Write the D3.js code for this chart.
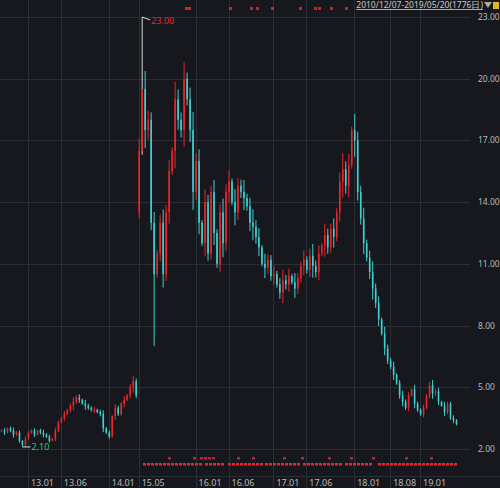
<!DOCTYPE html>
<html lang="zh">
<head>
<meta charset="UTF-8">
<script src="https://cdn.jsdelivr.net/npm/d3@7"></script>
<style>
  body { margin: 0; background: #16181d; }
  svg { display: block; font-family: "Noto Sans", "DejaVu Sans", sans-serif; }
</style>
</head>
<body>
<svg id="chart" width="500" height="488"></svg>
<script>
// closing prices, one candle every ~3px from 2010/12 to 2019/05
const closes = [
  2.9,2.8,3.0,2.9,2.7,2.8,2.4,2.2,2.5,2.8,2.9,2.7,2.9,2.8,2.7,2.6,2.4,2.5,2.9,3.3,
  3.5,3.7,3.9,4.1,4.3,4.5,4.4,4.2,4.1,4.0,3.9,3.9,3.8,3.7,3.0,2.8,2.6,3.6,4.0,3.7,
  4.2,4.4,4.6,5.0,5.3,4.6,16.5,19.5,17.5,18.0,13.0,10.5,11.5,13.0,10.5,13.5,15.5,16.5,19.0,18.0,
  17.5,20.0,19.0,17.5,14.5,16.0,13.0,12.0,14.0,11.5,14.5,12.5,11.0,13.5,12.0,14.5,15.0,14.0,13.5,14.8,
  14.5,14.2,13.8,13.0,12.8,12.3,11.8,11.0,10.8,11.2,10.4,10.5,10.0,9.6,10.2,10.0,10.4,10.1,9.8,10.3,
  10.9,11.2,10.7,11.4,10.9,10.6,11.5,11.9,12.4,11.8,12.7,12.3,13.5,15.0,15.6,14.8,15.8,17.5,17.0,14.5,
  13.2,12.0,11.3,10.6,9.8,9.1,8.3,7.6,6.9,6.3,6.0,5.6,5.2,4.6,4.3,4.0,4.6,4.9,4.2,3.9,
  3.7,4.0,4.6,5.1,4.7,4.8,4.3,4.1,3.8,4.2,3.5,3.4,3.2
];
const wicks = [0.02,0.04,0.015,0.03,0.05,0.025,0.035,0.01,0.045,0.025];
const yTicks = [2, 5, 8, 11, 14, 17, 20, 23];
const dateLabels = ["13.01","13.06","14.01","15.05","16.01","16.06","17.01","17.06","18.01","18.08","19.01"];
const dateIndex = [9, 20, 36, 46, 65, 76, 91, 102, 118, 130, 140];
const peakIndex = 47, peakPrice = 23.0;
const lowIndex = 7, lowPrice = 2.1;
const resumeIndex = 46, resumeOpen = 13.5;   // trading resumed after suspension
const bottomRuns = [[143,160],[163,200],[205,225],[228,262],[265,300],[303,340],[345,372],[378,457]];
const bottomRaised = [168,193,200,204,208,212,237,252,283,301,328,350,372,405,430];
const topMarks = [185,188,229,250,256,271,299,314,318,330,345];

const W = 500, H = 488, plotR = 470;
const svg = d3.select("#chart");
svg.append("rect").attr("width", W).attr("height", H).attr("fill", "#16181d");

const n = closes.length;
const x = d3.scaleLinear().domain([0, n - 1]).range([1, 456]);
const y = d3.scaleLinear().domain([2, 23]).range([449, 17]);

// build candles: open = previous close
const candles = closes.map((c, i) => {
  const o = i === 0 ? c : closes[i - 1];
  const w = wicks[i % wicks.length] * Math.max(o, c);
  return { i, o, c, h: Math.max(o, c) + w, l: Math.min(o, c) - w };
});
candles[resumeIndex].o = resumeOpen;
candles[resumeIndex].l = resumeOpen - 0.3;
candles[peakIndex].h = peakPrice;
candles[lowIndex].l = lowPrice;
candles[51].l = 7.0;

// grid
const grid = svg.append("g").attr("stroke", "#2b2e34").attr("stroke-width", 1);
yTicks.forEach(t => grid.append("line").attr("x1", 0).attr("x2", plotR)
  .attr("y1", Math.round(y(t)) + 0.5).attr("y2", Math.round(y(t)) + 0.5));
dateIndex.forEach(di => grid.append("line").attr("y1", 0).attr("y2", 488)
  .attr("x1", Math.round(x(di)) + 0.5).attr("x2", Math.round(x(di)) + 0.5));
svg.append("line").attr("x1", 0).attr("x2", W).attr("y1", 476.5).attr("y2", 476.5).attr("stroke", "#2b2e34");

// y labels
svg.append("g").selectAll("text").data(yTicks).join("text")
  .attr("x", 478).attr("y", d => y(d) + 3).attr("fill", "#b8b8b8").attr("font-size", 8.5)
  .text(d => d.toFixed(2));

// x labels
svg.append("g").selectAll("text").data(dateLabels).join("text")
  .attr("x", (d, k) => x(dateIndex[k]) + 3).attr("y", 486).attr("fill", "#b8b8b8").attr("font-size", 9)
  .text(d => d);

// candles
const up = "#e8262e", down = "#3fd0d0";
const cg = svg.append("g");
cg.selectAll("line").data(candles).join("line")
  .attr("x1", d => x(d.i) + 0.5).attr("x2", d => x(d.i) + 0.5)
  .attr("y1", d => y(d.h)).attr("y2", d => y(d.l))
  .attr("stroke", d => d.i === peakIndex ? "#cfd8d8" : (d.c >= d.o ? up : down)).attr("stroke-width", 1);
cg.selectAll("rect").data(candles).join("rect")
  .attr("x", d => x(d.i) - 0.3).attr("width", 1.6)
  .attr("y", d => y(Math.max(d.o, d.c)))
  .attr("height", d => Math.max(1, Math.abs(y(d.o) - y(d.c))))
  .attr("fill", d => d.c >= d.o ? up : down);

// peak / low annotations
const px = x(peakIndex) + 0.5, py = y(peakPrice);
svg.append("line").attr("x1", px).attr("y1", py).attr("x2", px + 8).attr("y2", py + 3).attr("stroke", "#ddd");
svg.append("text").attr("x", px + 9).attr("y", py + 7).attr("fill", "#e8262e").attr("font-size", 9).text(peakPrice.toFixed(2));
const lx = x(lowIndex) + 0.5, ly = y(lowPrice);
svg.append("line").attr("x1", lx).attr("y1", ly).attr("x2", lx + 8).attr("y2", ly).attr("stroke", "#ddd");
svg.append("text").attr("x", lx + 9).attr("y", ly + 3).attr("fill", "#2ecc71").attr("font-size", 9).text(lowPrice.toFixed(2));

// bottom event markers
const mg = svg.append("g").attr("fill", "#e8262e");
bottomRuns.forEach(([a, b]) => {
  d3.range(a, b, 4).forEach(px2 => mg.append("rect").attr("x", px2).attr("y", 463).attr("width", 3).attr("height", 2.5));
});
bottomRaised.forEach(px2 => mg.append("rect").attr("x", px2).attr("y", 457).attr("width", 3).attr("height", 2.5).attr("opacity", 0.8));
topMarks.forEach(px2 => mg.append("rect").attr("x", px2).attr("y", 7).attr("width", 3).attr("height", 3).attr("opacity", 0.85));

// range header
svg.append("text").attr("x", 483).attr("y", 8).attr("text-anchor", "end")
  .attr("fill", "#c8c8c8").attr("font-size", 8.5).attr("text-decoration", "underline")
  .text("2010/12/07-2019/05/20(1776日)");
svg.append("path").attr("d", "M484,2 L492,2 L488,8 Z").attr("fill", "#aaa");
svg.append("rect").attr("x", 493).attr("y", 2).attr("width", 6).attr("height", 7).attr("fill", "#e6b422");
</script>
</body>
</html>
